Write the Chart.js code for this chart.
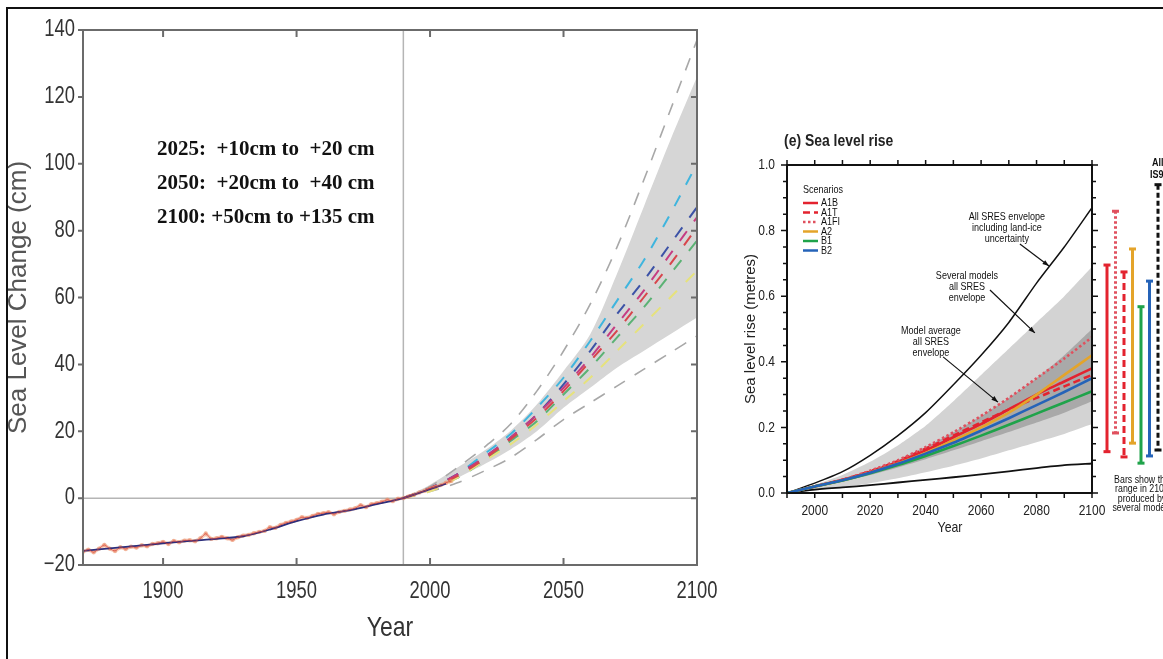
<!DOCTYPE html>
<html lang="en">
<head>
<meta charset="UTF-8">
<title>Sea level change</title>
<style>
  html, body { margin: 0; padding: 0; background: #fff; }
  body { width: 1163px; height: 659px; position: relative; overflow: hidden; }
  #frame { position: absolute; left: 6px; top: 7px; width: 1200px; height: 700px;
           border-left: 2px solid #111; border-top: 2px solid #111; pointer-events: none; z-index: 5; }
  #leftBox { position: absolute; left: 0; top: 0; width: 720px; height: 659px; }
  #rightBox { position: absolute; left: 730px; top: 110px; width: 433px; height: 450px; }
</style>
</head>
<body>
<script src="https://cdn.jsdelivr.net/npm/chart.js"></script>
<div id="frame"></div>
<div id="leftBox"><canvas id="seaLevel"></canvas></div>
<div id="rightBox"><canvas id="sres"></canvas></div>
<script>
const SANS = '"Liberation Sans", Arial, sans-serif';

// ---------- left panel: observed + projected sea level (cm) ----------
const obsYears = [1870, 1872, 1874, 1876, 1878, 1880, 1882, 1884, 1886, 1888,
  1890, 1892, 1894, 1896, 1898, 1900, 1902, 1904, 1906, 1908,
  1910, 1912, 1914, 1916, 1918, 1920, 1922, 1924, 1926, 1928,
  1930, 1932, 1934, 1936, 1938, 1940, 1942, 1944, 1946, 1948,
  1950, 1952, 1954, 1956, 1958, 1960, 1962, 1964, 1966, 1968,
  1970, 1972, 1974, 1976, 1978, 1980, 1982, 1984, 1986, 1988,
  1990, 1992, 1994, 1996, 1998, 2000, 2002, 2004, 2006, 2008];
const obsLevel = [-16.0, -15.4, -16.2, -15.1, -14.0, -15.1, -15.8, -14.7, -15.2, -14.5,
  -14.8, -14.1, -14.4, -13.7, -13.5, -13.1, -13.7, -12.8, -13.2, -12.7,
  -12.6, -12.9, -12.0, -10.6, -12.2, -12.0, -11.6, -12.0, -12.5, -11.7,
  -11.2, -11.0, -10.5, -10.1, -9.8, -8.7, -8.9, -8.0, -7.4, -7.0,
  -6.5, -5.7, -5.9, -5.3, -4.7, -4.5, -4.2, -4.8, -4.1, -3.8,
  -3.4, -3.0, -2.1, -2.7, -1.8, -1.5, -1.1, -0.5, -0.9, -0.2,
  0.0, 0.5, 1.0, 1.7, 2.2, 2.9, 3.3, 3.9, 4.6, 5.1];
const trendYears = [1870, 1880, 1890, 1900, 1910, 1920, 1930, 1940, 1950, 1960, 1970, 1980, 1990, 2000, 2006];
const trendLevel = [-15.8, -15.0, -14.3, -13.5, -12.8, -12.2, -11.4, -9.4, -6.9, -4.9, -3.6, -1.8, 0.0, 2.7, 4.3];

const projYears    = [1990, 2000, 2010, 2020, 2030, 2040, 2050, 2060, 2070, 2080, 2090, 2100];
const envelopeHigh = [0, 3.5, 9, 15, 22, 32, 44, 58, 75, 95, 116, 137];
const envelopeLow  = [0, 2, 4.5, 8, 12, 17.5, 23.5, 28.5, 33.5, 38.5, 43.5, 48.5];
const bandHigh     = [0, 4, 9, 14, 20, 28, 38, 49, 67, 87, 107, 126];
const bandLow      = [0, 2.5, 6, 10, 14.5, 20, 27, 33, 39, 44, 49, 54];
const scenCyan     = [0, 3, 7, 13, 19, 27, 36, 47, 59, 71, 85, 100];
const scenBlue     = [0, 3, 7, 12, 18, 25, 34, 44, 55, 65, 76, 87];
const scenMagenta  = [0, 3, 7, 12, 18, 25, 33, 42, 52, 62, 73, 84];
const scenRed      = [0, 3, 6.5, 11.5, 17.5, 24, 32, 41, 50, 60, 70, 81];
const scenGreen    = [0, 3, 6, 11, 17, 23, 31, 39, 48, 57, 67, 77];
const scenYellow   = [0, 2, 6, 11, 16, 22, 29, 36, 44, 52, 60, 68];

const leftXTicks = [1900, 1950, 2000, 2050, 2100];
const leftYTicks = [-20, 0, 20, 40, 60, 80, 100, 120, 140];
const baseYear = 1990;
const notes = ['2025:  +10cm to  +20 cm', '2050:  +20cm to  +40 cm', '2100: +50cm to +135 cm'];

// ---------- right panel: (e) Sea level rise (metres) ----------
const sresYears   = [1990, 2000, 2010, 2020, 2030, 2040, 2050, 2060, 2070, 2080, 2090, 2100];
const landIceHigh = [0, 0.03, 0.065, 0.115, 0.175, 0.245, 0.33, 0.42, 0.52, 0.64, 0.75, 0.87];
const landIceLow  = [0, 0.01, 0.017, 0.024, 0.032, 0.04, 0.048, 0.057, 0.066, 0.076, 0.085, 0.09];
const modelsHigh  = [0, 0.025, 0.055, 0.095, 0.145, 0.205, 0.28, 0.36, 0.44, 0.52, 0.60, 0.69];
const modelsLow   = [0, 0.008, 0.018, 0.03, 0.045, 0.063, 0.083, 0.105, 0.13, 0.155, 0.18, 0.21];
const averageHigh = [0, 0.02, 0.042, 0.068, 0.10, 0.14, 0.185, 0.235, 0.29, 0.35, 0.42, 0.50];
const averageLow  = [0, 0.017, 0.035, 0.055, 0.078, 0.103, 0.13, 0.158, 0.186, 0.215, 0.245, 0.28];
const scenarioNames = ['A1B', 'A1T', 'A1FI', 'A2', 'B1', 'B2'];
const scenarioRise = [
  [0, 0.02, 0.04, 0.065, 0.095, 0.13, 0.17, 0.21, 0.255, 0.30, 0.34, 0.38],
  [0, 0.02, 0.04, 0.066, 0.097, 0.135, 0.175, 0.215, 0.255, 0.29, 0.325, 0.36],
  [0, 0.02, 0.04, 0.068, 0.10, 0.14, 0.185, 0.235, 0.29, 0.35, 0.41, 0.475],
  [0, 0.02, 0.038, 0.062, 0.09, 0.122, 0.16, 0.20, 0.245, 0.30, 0.36, 0.42],
  [0, 0.02, 0.038, 0.06, 0.085, 0.113, 0.143, 0.175, 0.208, 0.242, 0.276, 0.31],
  [0, 0.02, 0.039, 0.062, 0.089, 0.12, 0.153, 0.19, 0.228, 0.268, 0.308, 0.35]
];
const rangeNames    = ['A1B', 'A1FI', 'A1T', 'A2', 'B1', 'B2', 'All IS92'];
const range2100Low  = [0.126, 0.183, 0.11, 0.152, 0.091, 0.113, 0.131];
const range2100High = [0.695, 0.859, 0.674, 0.744, 0.568, 0.646, 0.94];
const rightXTicks = [2000, 2020, 2040, 2060, 2080, 2100];
const rightYTicks = [0, 0.2, 0.4, 0.6, 0.8, 1.0];

const pair = (xs, ys) => xs.map((x, i) => ({x: x, y: ys[i]}));

const scenarioStyle = {
  A1B:  {color: '#e3232f', dash: []},
  A1T:  {color: '#e3232f', dash: [7, 4]},
  A1FI: {color: '#e0505e', dash: [2.5, 2.5]},
  A2:   {color: '#e4a42a', dash: []},
  B1:   {color: '#1fa34a', dash: []},
  B2:   {color: '#2563b8', dash: []},
  'All IS92': {color: '#111', dash: [5, 3]}
};

// condensed text: the scanned figure is squashed horizontally
function narrowText(ctx, text, x, y, font, color, align, sx) {
  ctx.save();
  ctx.font = font;
  ctx.fillStyle = color;
  ctx.textAlign = 'left';
  ctx.textBaseline = 'middle';
  const w = ctx.measureText(text).width * sx;
  const left = align === 'center' ? x - w / 2 : align === 'right' ? x - w : x;
  ctx.translate(left, y);
  ctx.scale(sx, 1);
  ctx.fillText(text, 0, 0);
  ctx.restore();
}

// ---------- left chart decoration ----------
const leftDecor = {
  id: 'leftDecor',
  beforeDatasetsDraw(chart) {
    const {ctx, chartArea: a, scales: {x, y}} = chart;
    ctx.save();
    ctx.strokeStyle = '#b5b5b5';
    ctx.lineWidth = 1.5;
    const px = x.getPixelForValue(baseYear), py = y.getPixelForValue(0);
    ctx.beginPath();
    ctx.moveTo(px, a.top); ctx.lineTo(px, a.bottom);
    ctx.moveTo(a.left, py); ctx.lineTo(a.right, py);
    ctx.stroke();
    ctx.restore();
  },
  afterDraw(chart) {
    const {ctx, chartArea: a, scales: {x, y}} = chart;
    ctx.save();
    ctx.strokeStyle = '#6b6b6b';
    ctx.lineWidth = 2;
    ctx.strokeRect(a.left, a.top, a.right - a.left, a.bottom - a.top);
    ctx.beginPath();
    leftXTicks.forEach(v => {
      const px = x.getPixelForValue(v);
      ctx.moveTo(px, a.bottom); ctx.lineTo(px, a.bottom - 7);
      ctx.moveTo(px, a.top); ctx.lineTo(px, a.top + 7);
    });
    leftYTicks.forEach(v => {
      const py = y.getPixelForValue(v);
      ctx.moveTo(a.left, py); ctx.lineTo(a.left - 5, py);
      ctx.moveTo(a.right, py); ctx.lineTo(a.right - 6, py);
    });
    ctx.stroke();
    ctx.restore();

    const tickFont = '23px ' + SANS;
    leftXTicks.forEach(v => narrowText(ctx, String(v), x.getPixelForValue(v), a.bottom + 27, tickFont, '#333', 'center', 0.8));
    leftYTicks.forEach(v => narrowText(ctx, String(v).replace('-', '\u2212'), a.left - 8, y.getPixelForValue(v), tickFont, '#333', 'right', 0.8));
    narrowText(ctx, 'Year', (a.left + a.right) / 2, a.bottom + 63, '28px ' + SANS, '#333', 'center', 0.82);

    ctx.save();
    ctx.fillStyle = '#111';
    ctx.font = 'bold 21px "Liberation Serif", "Times New Roman", serif';
    ctx.textBaseline = 'alphabetic';
    notes.forEach((t, i) => ctx.fillText(t, a.left + 74, a.top + 125 + i * 34));
    ctx.restore();
  }
};

const lineSet = (data, color, width, extra) => Object.assign({
  data: data, borderColor: color, borderWidth: width, pointRadius: 0, fill: false, tension: 0.3
}, extra || {});

const scenDash = [12, 12];
new Chart(document.getElementById('seaLevel'), {
  type: 'line',
  data: {
    datasets: [
      lineSet(pair(projYears, bandLow), 'rgba(0,0,0,0)', 0, {order: 10}),
      lineSet(pair(projYears, bandHigh), 'rgba(0,0,0,0)', 0, {order: 10, fill: '-1', backgroundColor: '#d6d6d6'}),
      lineSet(pair(projYears, envelopeHigh), '#a8a8a8', 1.6, {order: 8, borderDash: [13, 11]}),
      lineSet(pair(projYears, envelopeLow), '#a8a8a8', 1.6, {order: 8, borderDash: [13, 11]}),
      lineSet(pair(projYears, scenYellow), '#e6e27c', 2, {order: 6, borderDash: scenDash}),
      lineSet(pair(projYears, scenGreen), '#5bb274', 2, {order: 6, borderDash: scenDash}),
      lineSet(pair(projYears, scenRed), '#d8454c', 2, {order: 5, borderDash: scenDash}),
      lineSet(pair(projYears, scenMagenta), '#c53c82', 2, {order: 5, borderDash: scenDash}),
      lineSet(pair(projYears, scenBlue), '#3c52a6', 2, {order: 5, borderDash: scenDash}),
      lineSet(pair(projYears, scenCyan), '#3fb5de', 2, {order: 5, borderDash: scenDash}),
      lineSet(pair(obsYears, obsLevel), 'rgba(238,150,112,0.5)', 3.5, {order: 3, tension: 0,
        pointRadius: 2.2, pointBorderWidth: 0, pointBackgroundColor: 'rgba(236,140,100,0.5)'}),
      lineSet(pair(trendYears, trendLevel), '#2d2f7c', 1.8, {order: 2}),
      lineSet(pair(obsYears, obsLevel), 'rgba(214,64,60,0.75)', 1, {order: 1, tension: 0.2})
    ]
  },
  options: {
    responsive: true,
    maintainAspectRatio: false,
    animation: false,
    layout: {padding: {top: 30, right: 23, left: 0, bottom: 0}},
    plugins: {legend: {display: false}, tooltip: {enabled: false}},
    scales: {
      x: {
        type: 'linear', min: 1870, max: 2100,
        afterBuildTicks: s => { s.ticks = leftXTicks.map(v => ({value: v})); },
        afterFit: s => { s.height = 94; },
        grid: {display: false, drawTicks: false},
        border: {display: false},
        ticks: {display: false}
      },
      y: {
        type: 'linear', min: -20, max: 140,
        afterBuildTicks: s => { s.ticks = leftYTicks.map(v => ({value: v})); },
        afterFit: s => { s.width = 83; },
        grid: {display: false, drawTicks: false},
        border: {display: false},
        ticks: {display: false},
        title: {display: true, text: 'Sea Level Change (cm)', color: '#555', font: {family: SANS, size: 26}, padding: {top: 3, bottom: 0}}
      }
    }
  },
  plugins: [leftDecor]
});

// ---------- right chart decoration ----------
const rightNotes = [
  {lines: ['All SRES envelope', 'including land-ice', 'uncertainty'], at: [2069.3, 0.841], from: [2074.0, 0.759], to: [2084.5, 0.692]},
  {lines: ['Several models', 'all SRES', 'envelope'], at: [2054.9, 0.662], from: [2063.2, 0.619], to: [2079.4, 0.488]},
  {lines: ['Model average', 'all SRES', 'envelope'], at: [2041.9, 0.494], from: [2046.3, 0.415], to: [2066.1, 0.277]}
];

function arrow(ctx, x1, y1, x2, y2) {
  const ang = Math.atan2(y2 - y1, x2 - x1);
  ctx.beginPath(); ctx.moveTo(x1, y1); ctx.lineTo(x2, y2); ctx.stroke();
  ctx.beginPath();
  ctx.moveTo(x2, y2);
  ctx.lineTo(x2 - 7 * Math.cos(ang - 0.35), y2 - 7 * Math.sin(ang - 0.35));
  ctx.lineTo(x2 - 7 * Math.cos(ang + 0.35), y2 - 7 * Math.sin(ang + 0.35));
  ctx.closePath(); ctx.fill();
}

const rightDecor = {
  id: 'rightDecor',
  afterDraw(chart) {
    const {ctx, chartArea: a, scales: {x, y}} = chart;
    ctx.save();
    ctx.strokeStyle = '#111';
    ctx.lineWidth = 2;
    ctx.strokeRect(a.left, a.top, a.right - a.left, a.bottom - a.top);
    ctx.lineWidth = 1.5;
    ctx.beginPath();
    for (let yr = 1990; yr <= 2100; yr += 10) {
      const px = x.getPixelForValue(yr);
      ctx.moveTo(px, a.bottom); ctx.lineTo(px, a.bottom + 5);
      ctx.moveTo(px, a.top); ctx.lineTo(px, a.top - 5);
    }
    for (let k = 0; k <= 20; k++) {
      const py = y.getPixelForValue(k * 0.05);
      const len = k % 4 === 0 ? 6 : 4;
      ctx.moveTo(a.left, py); ctx.lineTo(a.left - len, py);
      ctx.moveTo(a.right, py); ctx.lineTo(a.right + len, py);
    }
    ctx.stroke();

    // 2100 range bars
    rangeNames.forEach((n, i) => {
      const st = scenarioStyle[n];
      const bx = a.right + 15 + i * 8.5;
      const y1 = y.getPixelForValue(range2100High[i]), y0 = y.getPixelForValue(range2100Low[i]);
      ctx.strokeStyle = st.color; ctx.fillStyle = st.color; ctx.lineWidth = 3;
      ctx.setLineDash(st.dash);
      ctx.beginPath(); ctx.moveTo(bx, y1); ctx.lineTo(bx, y0); ctx.stroke();
      ctx.setLineDash([]);
      ctx.fillRect(bx - 3.5, y1 - 1.5, 7, 3);
      ctx.fillRect(bx - 3.5, y0 - 1.5, 7, 3);
    });

    // scenario legend lines
    scenarioNames.forEach((n, i) => {
      const st = scenarioStyle[n];
      const ly = a.top + 38 + i * 9.5;
      ctx.strokeStyle = st.color; ctx.lineWidth = 2.5; ctx.setLineDash(st.dash);
      ctx.beginPath(); ctx.moveTo(a.left + 16, ly); ctx.lineTo(a.left + 31, ly); ctx.stroke();
    });
    ctx.setLineDash([]);

    // arrows
    ctx.strokeStyle = '#111'; ctx.fillStyle = '#111'; ctx.lineWidth = 1.2;
    rightNotes.forEach(n => arrow(ctx, x.getPixelForValue(n.from[0]), y.getPixelForValue(n.from[1]),
      x.getPixelForValue(n.to[0]), y.getPixelForValue(n.to[1])));
    ctx.restore();

    // texts
    const small = '11px ' + SANS;
    narrowText(ctx, '(e) Sea level rise', a.left - 3, a.top - 24, 'bold 17px ' + SANS, '#222', 'left', 0.82);
    narrowText(ctx, 'Scenarios', a.left + 16, a.top + 25, small, '#111', 'left', 0.82);
    scenarioNames.forEach((n, i) => narrowText(ctx, n, a.left + 34, a.top + 38 + i * 9.5, small, '#111', 'left', 0.82));
    rightNotes.forEach(n => {
      const cx = x.getPixelForValue(n.at[0]), cy = y.getPixelForValue(n.at[1]);
      n.lines.forEach((t, i) => narrowText(ctx, t, cx, cy + i * 11, small, '#111', 'center', 0.82));
    });
    ['Bars show the', 'range in 2100', 'produced by', 'several models'].forEach((t, i) =>
      narrowText(ctx, t, a.right + 50, a.bottom - 13 + i * 9.3, small, '#111', 'center', 0.8));
    narrowText(ctx, 'All', a.right + 60, a.top - 2, 'bold 11px ' + SANS, '#111', 'left', 0.82);
    narrowText(ctx, 'IS92', a.right + 58, a.top + 10, 'bold 11px ' + SANS, '#111', 'left', 0.82);

    const tickFont = '15px ' + SANS;
    rightXTicks.forEach(v => narrowText(ctx, String(v), x.getPixelForValue(v), a.bottom + 18, tickFont, '#222', 'center', 0.8));
    rightYTicks.forEach(v => narrowText(ctx, v.toFixed(1), a.left - 12, y.getPixelForValue(v), tickFont, '#222', 'right', 0.8));
    narrowText(ctx, 'Year', a.left + 163, a.bottom + 35, '15px ' + SANS, '#222', 'center', 0.82);
  }
};

const rightSets = [
  lineSet(pair(sresYears, modelsLow), 'rgba(0,0,0,0)', 0, {order: 20, tension: 0.2}),
  lineSet(pair(sresYears, modelsHigh), 'rgba(0,0,0,0)', 0, {order: 20, tension: 0.2, fill: '-1', backgroundColor: '#d3d3d3'}),
  lineSet(pair(sresYears, averageLow), 'rgba(0,0,0,0)', 0, {order: 18, tension: 0.2}),
  lineSet(pair(sresYears, averageHigh), 'rgba(0,0,0,0)', 0, {order: 18, tension: 0.2, fill: '-1', backgroundColor: '#a9a9a9'}),
  lineSet(pair(sresYears, landIceHigh), '#111', 1.5, {order: 12, tension: 0.2}),
  lineSet(pair(sresYears, landIceLow), '#111', 1.8, {order: 12, tension: 0.2})
];
scenarioNames.forEach((n, i) => {
  const st = scenarioStyle[n];
  rightSets.push(lineSet(pair(sresYears, scenarioRise[i]), st.color, 2.6,
    {order: 10 - i, tension: 0.2, borderDash: st.dash}));
});

new Chart(document.getElementById('sres'), {
  type: 'line',
  data: {datasets: rightSets},
  options: {
    responsive: true,
    maintainAspectRatio: false,
    animation: false,
    layout: {padding: {top: 55, right: 71, left: 0, bottom: 0}},
    plugins: {legend: {display: false}, tooltip: {enabled: false}},
    scales: {
      x: {
        type: 'linear', min: 1990, max: 2100,
        afterBuildTicks: s => { s.ticks = rightXTicks.map(v => ({value: v})); },
        afterFit: s => { s.height = 67; },
        grid: {display: false, drawTicks: false},
        border: {display: false},
        ticks: {display: false}
      },
      y: {
        type: 'linear', min: 0, max: 1,
        afterBuildTicks: s => { s.ticks = rightYTicks.map(v => ({value: v})); },
        afterFit: s => { s.width = 57; },
        grid: {display: false, drawTicks: false},
        border: {display: false},
        ticks: {display: false},
        title: {display: true, text: 'Sea level rise (metres)', color: '#222', font: {family: SANS, size: 15}, padding: {top: 12, bottom: 0}}
      }
    }
  },
  plugins: [rightDecor]
});
</script>
</body>
</html>
